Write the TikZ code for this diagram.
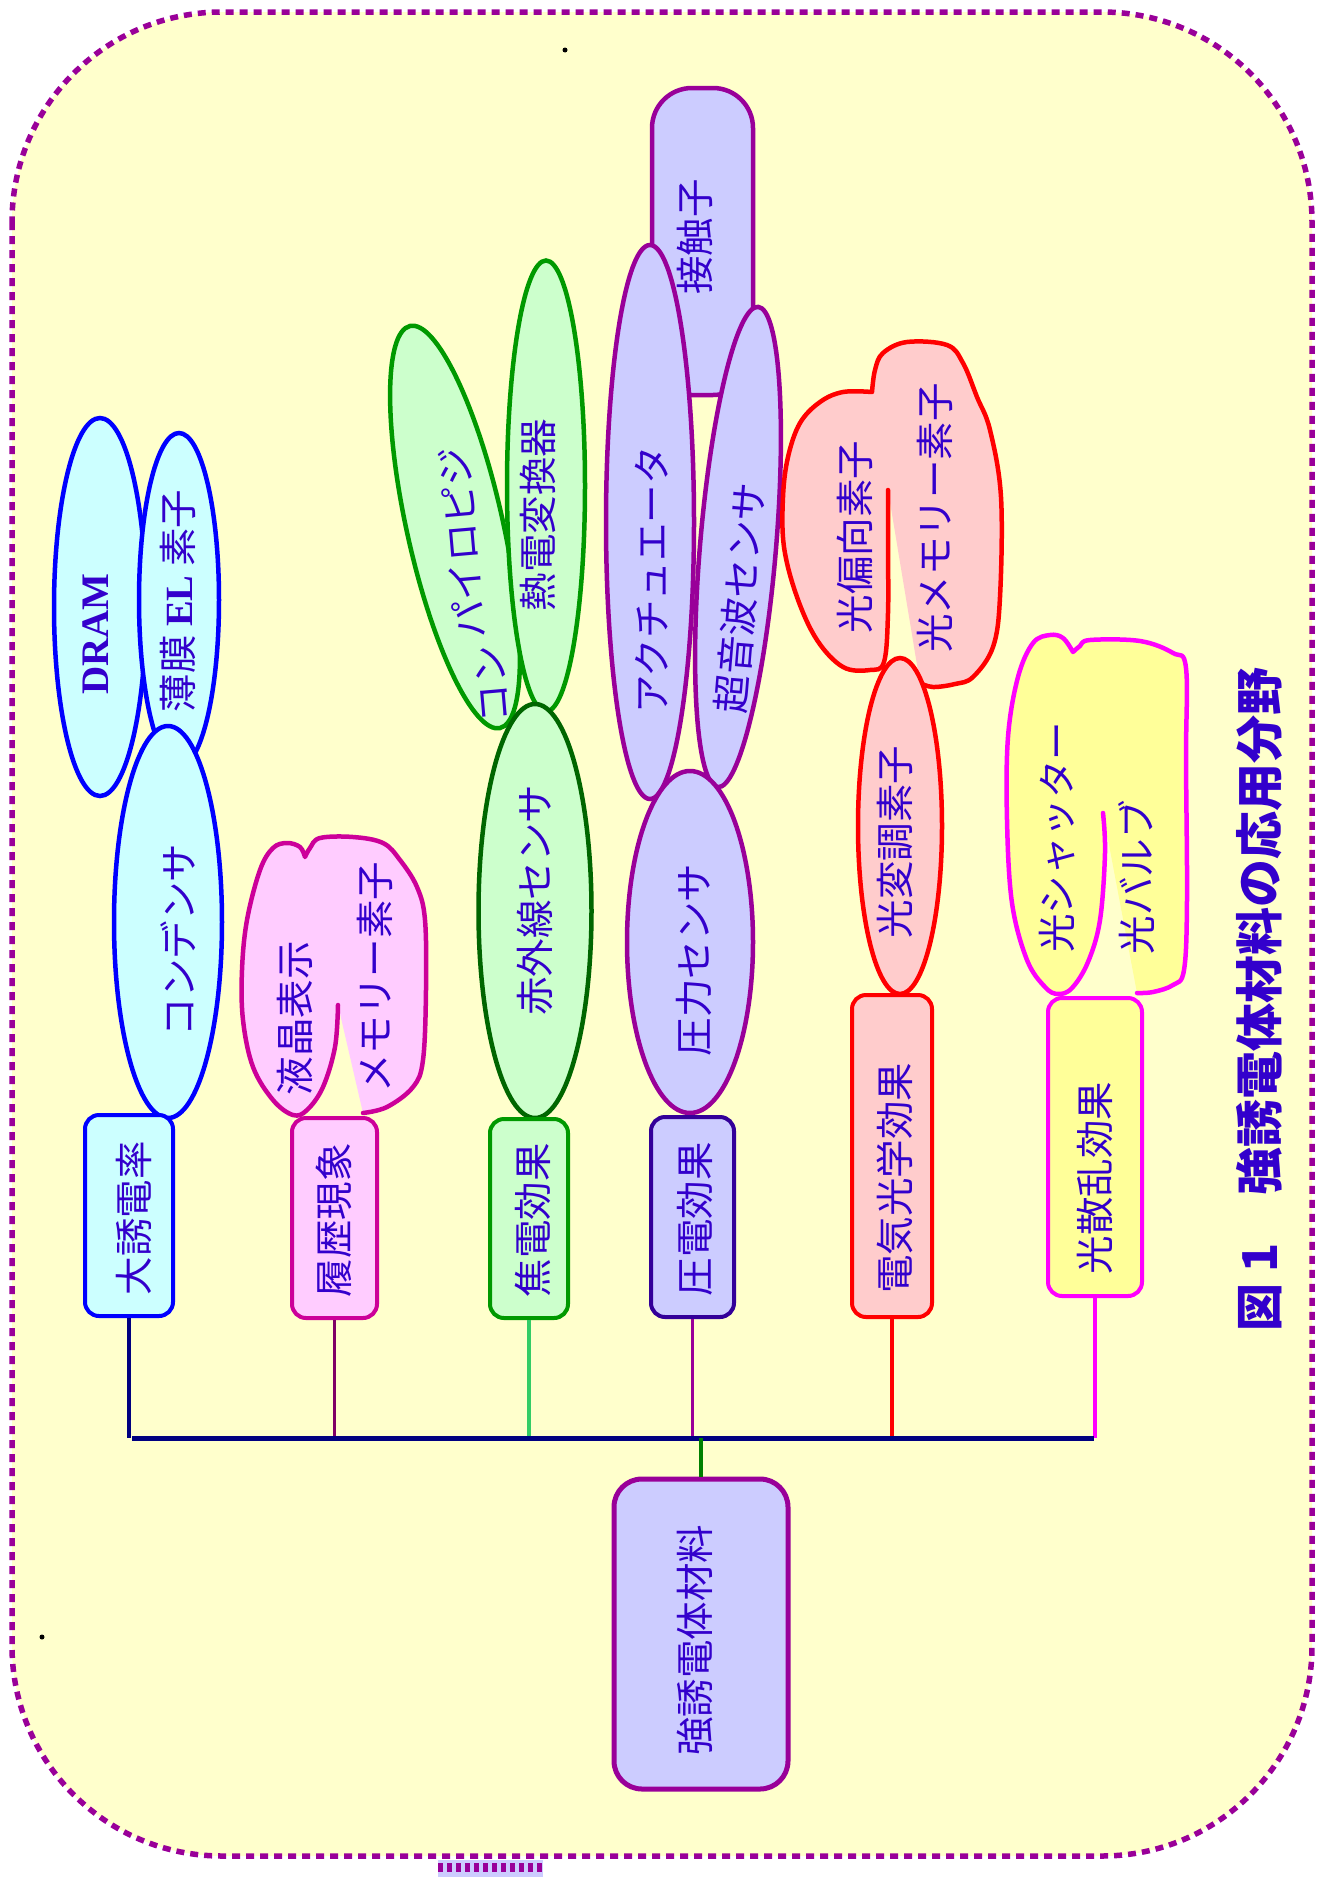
\documentclass[tikz,border=0pt]{standalone}
\usepackage{fontspec}
\newfontfamily\jp{Noto Sans CJK JP}
\newfontfamily\lserif{Liberation Serif}
\usetikzlibrary{shapes.geometric}
\definecolor{bgc}{HTML}{FFFFCC}
\definecolor{frame}{HTML}{990099}
\definecolor{textc}{HTML}{3300CC}
\definecolor{cyanf}{HTML}{CCFFFF}
\definecolor{blueb}{HTML}{0000FF}
\definecolor{pinkf}{HTML}{FFCCFF}
\definecolor{pinkb}{HTML}{CC0099}
\definecolor{greenf}{HTML}{CCFFCC}
\definecolor{greenb}{HTML}{009900}
\definecolor{dgreenb}{HTML}{006600}
\definecolor{lavf}{HTML}{CCCCFF}
\definecolor{purpb}{HTML}{990099}
\definecolor{indigob}{HTML}{330099}
\definecolor{salmf}{HTML}{FFCCCC}
\definecolor{redb}{HTML}{FF0000}
\definecolor{yelf}{HTML}{FFFF99}
\definecolor{magb}{HTML}{FF00FF}
\definecolor{navy}{HTML}{000080}
\definecolor{plum}{HTML}{800066}
\definecolor{lgreen}{HTML}{33CC66}
\definecolor{trunkc}{HTML}{008000}
\begin{document}
\begin{tikzpicture}[x=1pt,y=-1pt,
  txt/.style={rotate=90, text=textc, font=\jp\fontsize{38.5}{40}\selectfont, inner sep=0pt},
  ell/.style={ellipse, line width=4.5pt, inner sep=0pt},
  box/.style={rectangle, rounded corners=14pt, line width=4pt, inner sep=0pt},
  conn/.style={line width=3.5pt},
  cloud/.style={line width=4.5pt, line join=round, line cap=round}]
\useasboundingbox (0,0) rectangle (1321,1877);
% background frame
\draw[fill=bgc, draw=frame, line width=5.5pt, dash pattern=on 8pt off 6pt, rounded corners=210pt] (12,12) rectangle (1312,1856);
\fill[lavf] (438,1860) rectangle (543,1877);
\draw[frame, line width=9pt, dash pattern=on 5pt off 4pt] (438,1867) -- (543,1867);
\fill (565,50) circle (2.5pt);
\fill (42,1637) circle (2.5pt);

% blue group
\node[ell, draw=blueb, fill=cyanf, minimum width=92pt, minimum height=378pt] (eDRAM) at (100,607) {};
\node[ell, draw=blueb, fill=cyanf, minimum width=80pt, minimum height=334pt] (eEL) at (179,600) {};
\node[ell, draw=blueb, fill=cyanf, minimum width=108pt, minimum height=392pt] (eCond) at (168,922) {};
\node[txt, font=\lserif\bfseries\fontsize{39}{40}\selectfont] (tDRAM) at (96,634) {DRAM};
\node[txt] (tEL) at (178,601) {薄膜 {\lserif\bfseries EL} 素子};
\node[txt] (tCond) at (178,940) {コンデンサ};

% green group
\node[ell, draw=greenb, fill=greenf, rotate=102.6, minimum width=412pt, minimum height=96pt] (ePyro) at (455,527) {};
\node[ell, draw=greenb, fill=greenf, minimum width=78pt, minimum height=451pt] (eNetsu) at (546,486) {};
\node[ell, draw=dgreenb, fill=greenf, minimum width=113pt, minimum height=414pt] (eIR) at (535,911) {};
\node[txt, rotate=5] (tPyro1) at (462,543) {パイロピジ};
\node[txt, rotate=5] (tPyro2) at (492,684) {コン};
\node[txt] (tNetsu) at (538,515) {熱電変換器};
\node[txt] (tIR) at (535,900) {赤外線センサ};

% purple group
\node[rectangle, rounded corners=40pt, line width=4.5pt, draw=purpb, fill=lavf, minimum width=101pt, minimum height=307pt, inner sep=0pt] (eContact) at (702.5,241.5) {};
\node[ell, draw=purpb, fill=lavf, minimum width=88pt, minimum height=554pt] (eAct) at (650,522) {};
\node[ell, draw=purpb, fill=lavf, rotate=85.2, minimum width=482pt, minimum height=76pt] (eUS) at (738,547) {};
\node[ell, draw=purpb, fill=lavf, minimum width=126pt, minimum height=342pt] (ePress) at (690,942) {};
\node[txt] (tContact) at (695,237) {接触子};
\node[txt] (tAct) at (652,580) {アクチュエータ};
\node[txt, rotate=-4.8] (tUS) at (740,598) {超音波センサ};
\node[txt] (tPress) at (694,960) {圧力センサ};

% red group
\fill[salmf] plot[smooth, tension=0.6] coordinates {(920,683) (933,687) (955,684) (973,677) (993,647) (1000,597) (1001,497) (990,430) (977,397) (963,363) (947,345) (907,342) (883,353) (875,370) (872,392)}
  -- plot[smooth, tension=0.6] coordinates {(872,392) (843,392) (820,402) (800,423) (788,457) (783,497) (784,547) (797,597) (817,640) (843,667) (870,670) (884,662) (888,613) (888,547) (888,490)} -- cycle;
\draw[redb, cloud] plot[smooth, tension=0.6] coordinates {(920,683) (933,687) (955,684) (973,677) (993,647) (1000,597) (1001,497) (990,430) (977,397) (963,363) (947,345) (907,342) (883,353) (875,370) (872,392)}
  -- plot[smooth, tension=0.6] coordinates {(872,392) (843,392) (820,402) (800,423) (788,457) (783,497) (784,547) (797,597) (817,640) (843,667) (870,670) (884,662) (888,613) (888,547) (888,490)};
\node[ell, draw=redb, fill=salmf, minimum width=84pt, minimum height=336pt] (eMod) at (900,826) {};
\node[txt] (tDefl) at (855,537) {光偏向素子};
\node[txt] (tOMem) at (935,518) {光メモリー素子};
\node[txt] (tMod) at (895,842) {光変調素子};

% yellow group
\fill[yelf] plot[smooth, tension=0.6] coordinates {(1137,993) (1153,992) (1173,985) (1184,970) (1187,900) (1186,760) (1186,668) (1173,653) (1140,641) (1090,640) (1080,646) (1073,652)}
  -- plot[smooth, tension=0.6] coordinates {(1073,652) (1063,638) (1050,635) (1033,643) (1018,677) (1008,737) (1007,820) (1012,903) (1027,960) (1045,987) (1058,994) (1072,988) (1088,962) (1100,920) (1105,853) (1103,813)} -- cycle;
\draw[magb, cloud] plot[smooth, tension=0.6] coordinates {(1137,993) (1153,992) (1173,985) (1184,970) (1187,900) (1186,760) (1186,668) (1173,653) (1140,641) (1090,640) (1080,646) (1073,652)}
  -- plot[smooth, tension=0.6] coordinates {(1073,652) (1063,638) (1050,635) (1033,643) (1018,677) (1008,737) (1007,820) (1012,903) (1027,960) (1045,987) (1058,994) (1072,988) (1088,962) (1100,920) (1105,853) (1103,813)};
\node[txt] (tShut) at (1057,837) {光シャッター};
\node[txt] (tValve) at (1137,877) {光バルブ};

% pink group
\fill[pinkf] plot[smooth, tension=0.6] coordinates {(363,1113) (387,1107) (413,1087) (423,1060) (426,990) (425,920) (417,887) (400,860) (383,843) (353,837) (320,838) (310,848) (305,857)}
  -- plot[smooth, tension=0.6] coordinates {(305,857) (300,847) (287,843) (273,848) (260,870) (247,920) (242,970) (243,1020) (253,1067) (273,1100) (293,1115) (307,1110) (323,1087) (335,1047) (338,1005)} -- cycle;
\draw[pinkb, cloud] plot[smooth, tension=0.6] coordinates {(363,1113) (387,1107) (413,1087) (423,1060) (426,990) (425,920) (417,887) (400,860) (383,843) (353,837) (320,838) (310,848) (305,857)}
  -- plot[smooth, tension=0.6] coordinates {(305,857) (300,847) (287,843) (273,848) (260,870) (247,920) (242,970) (243,1020) (253,1067) (273,1100) (293,1115) (307,1110) (323,1087) (335,1047) (338,1005)};
\node[txt] (tLC) at (295,1018) {液晶表示};
\node[txt] (tMem) at (375,977) {メモリー素子};

% level-1 boxes
\node[box, draw=blueb, fill=cyanf, minimum width=88pt, minimum height=201pt] (b1) at (129,1215.5) {};
\node[box, draw=pinkb, fill=pinkf, minimum width=85pt, minimum height=200pt] (b2) at (334.5,1218) {};
\node[box, draw=greenb, fill=greenf, minimum width=78pt, minimum height=199pt] (b3) at (529,1218.5) {};
\node[box, draw=indigob, fill=lavf, minimum width=83pt, minimum height=200pt] (b4) at (692.5,1217) {};
\node[box, draw=redb, fill=salmf, minimum width=80pt, minimum height=322pt] (b5) at (892,1156) {};
\node[box, draw=magb, fill=yelf, minimum width=94pt, minimum height=298pt] (b6) at (1095,1147) {};
\node[txt] (t1) at (134,1218) {大誘電率};
\node[txt] (t2) at (334,1220) {履歴現象};
\node[txt] (t3) at (533,1220) {焦電効果};
\node[txt] (t4) at (695,1219) {圧電効果};
\node[txt] (t5) at (895,1178) {電気光学効果};
\node[txt] (t6) at (1095,1178) {光散乱効果};

% root
\node[rectangle, rounded corners=28pt, line width=5pt, draw=purpb, fill=lavf, minimum width=174pt, minimum height=310pt, inner sep=0pt] (root) at (701,1634) {};
\node[txt] (troot) at (695,1640) {強誘電体材料};

% connectors
\coordinate (busL) at (132,1438);
\coordinate (busR) at (1094,1438);
\draw[conn, navy] (b1.south) -- (b1.south |- busL);
\draw[conn, plum] (b2.south) -- (b2.south |- busL);
\draw[conn, lgreen] (b3.south) -- (b3.south |- busL);
\draw[conn, purpb] (b4.south) -- (b4.south |- busL);
\draw[conn, redb] (b5.south) -- (b5.south |- busL);
\draw[conn, magb] (b6.south) -- (b6.south |- busL);
\draw[navy, line width=5pt] (busL) -- (busR);
\draw[conn, trunkc] (root.north) -- (root.north |- busL);

% title
\node[rotate=90, anchor=west, text=textc, font=\jp\bfseries\fontsize{48}{50}\selectfont, inner sep=0pt] (title) at (1259,1332) {図 1　強誘電体材料の応用分野};
\end{tikzpicture}
\end{document}
